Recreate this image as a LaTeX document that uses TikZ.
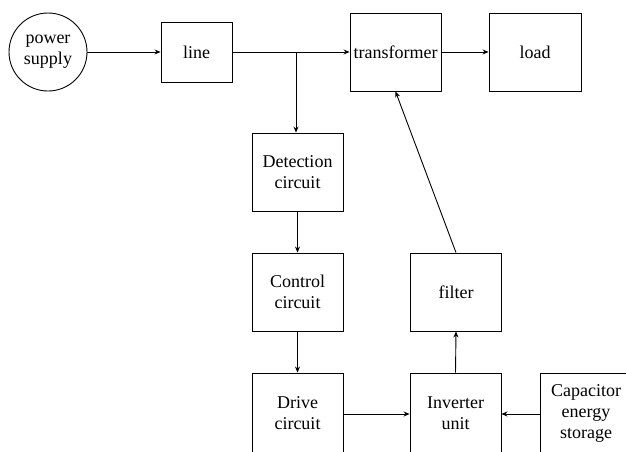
\documentclass[tikz,border=0pt]{standalone}
\usepackage{fontspec}
\setmainfont{Liberation Serif}
\usetikzlibrary{arrows.meta}
\begin{document}
\begin{tikzpicture}[x=1pt,y=-1pt,
  blk/.style={draw,line width=0.9pt,minimum width=91pt,minimum height=78pt,inner sep=0pt,align=center,
    font=\fontsize{18}{21}\selectfont},
  conn/.style={line width=0.9pt,-{Stealth[length=6pt,width=5pt]}},
  plain/.style={line width=0.9pt}]
\useasboundingbox (0,0) rectangle (626,451);
\clip (0,0) rectangle (626,451);
\node[draw,circle,line width=0.9pt,minimum size=78pt,inner sep=0pt,align=center,font=\fontsize{18}{21}\selectfont] (ps) at (48,52) {power\\supply};
\node[blk,minimum width=71pt,minimum height=60pt] (ln) at (196.5,52) {line};
\node[blk] (tr) at (395.5,52) {transformer};
\node[blk,minimum width=92pt] (ld) at (535,52) {load};
\node[blk] (det) at (297.5,172) {Detection\\circuit};
\node[blk] (ctl) at (297.5,292) {Control\\circuit};
\node[blk,minimum height=80pt] (drv) at (297.5,413) {Drive\\circuit};
\node[blk] (fil) at (456,292) {filter};
\node[blk,minimum height=80pt] (inv) at (455.5,413) {Inverter\\unit};
\node[blk,minimum width=92pt,minimum height=80pt] (cap) at (586,413) {Capacitor\\energy\\storage};
\coordinate (br) at (296,52);
\draw[conn] (ps) -- (ln);
\draw[conn] (ln) -- (tr);
\draw[conn] (br) -- (br |- det.north);
\draw[conn] (det) -- (ctl);
\draw[conn] (ctl) -- (drv.north);
\draw[conn] ([yshift=-1pt]drv.east) -- ([yshift=-1pt]inv.west);
\draw[conn] ([yshift=-1pt]cap.west) -- ([yshift=-1pt]inv.east);
\draw[conn] (inv.north) -- (fil.south);
\draw[conn] (fil.north) -- (tr.south);
\draw[conn] (tr) -- (ld);
\end{tikzpicture}
\end{document}
